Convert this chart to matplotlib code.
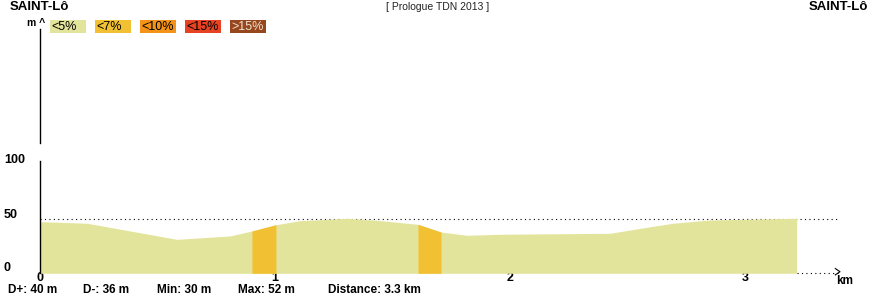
import matplotlib
matplotlib.use("Agg")
import matplotlib.pyplot as plt

plt.rcParams['font.family'] = ['Liberation Sans', 'DejaVu Sans']

# profil (km, m)
dist_km = [0, 0.200, 0.582, 0.808, 0.901, 1.003, 1.105, 1.304, 1.416, 1.607,
           1.705, 1.816, 1.956, 2.423, 2.594, 2.691, 2.849, 3.217]
alt_m = [48.8, 47.3, 32.1, 35.3, 40.0, 45.9, 49.7, 52.0, 50.4, 46.3,
         39.0, 35.9, 36.9, 37.8, 44.0, 47.3, 50.4, 52.0]
# classe de pente par intervalle (0: <5%, 1: <7%, ...)
classe = [0, 0, 0, 0, 1, 0, 0, 0, 0, 1, 0, 0, 0, 0, 0, 0, 0]

legende = ['<5%', '<7%', '<10%', '<15%', '>15%']
couleurs = ['#e3e49b', '#f2c033', '#f39318', '#e74322', '#96471d']
couleurs_txt = ['black', 'black', 'black', 'black', '#f0e0d0']

ville_depart = 'SAINT-Lô'
ville_arrivee = 'SAINT-Lô'
titre = '[ Prologue TDN 2013 ]'
stats = ['D+: 40 m', 'D-: 36 m', 'Min: 30 m', 'Max: 52 m', 'Distance: 3.3 km']
stats_x = [8, 83, 157, 238, 328]
yticks = [0, 50, 100]
xticks = [0, 1, 2, 3]

W, H = 880, 300
fig = plt.figure(figsize=(W / 100, H / 100), dpi=100)

def fx(x):
    return x / W

def fy(y):
    return 1 - y / H

x0, y0 = 40, 273.3
pxkm, pxm = 235.2, 1.058
xmax = (846 - x0) / pxkm
ymax = (y0 - 29) / pxm
ax = fig.add_axes([fx(x0), fy(y0), fx(846 - x0), (y0 - 29) / H])
ax.set_xlim(0, xmax)
ax.set_ylim(0, ymax)
for s in ax.spines.values():
    s.set_visible(False)
ax.set_yticks([])
ax.set_xticks(xticks)
ax.set_xticklabels([str(t) for t in xticks], fontsize=9, fontweight='bold')
ax.tick_params(axis='x', length=0, pad=-1)

# ligne max pointillée (derrière le profil)
fin = (840 - x0) / pxkm
ax.plot([0, fin], [max(alt_m) - 0.6] * 2, color='black', lw=0.8,
        ls=(0, (1, 3)), zorder=1)

# profil
ax.fill_between(dist_km, alt_m, 0, color=couleurs[0], lw=0, zorder=2)
for i, c in enumerate(classe):
    if c > 0:
        ax.fill_between(dist_km[i:i + 2], alt_m[i:i + 2], 0, color=couleurs[c],
                        lw=0, zorder=3)

# axe horizontal pointillé + flèche
ax.plot([dist_km[-1], fin], [0, 0], color='black', lw=0.8, ls=(0, (1, 3)),
        clip_on=False, zorder=4)
ax.plot([fin - 0.02, fin, fin - 0.02], [4.5, 1.5, -1.5], color='black', lw=0.8,
        clip_on=False)

# axe vertical interrompu
ax.plot([0, 0], [0, (y0 - 161) / pxm], color='black', lw=1, clip_on=False, zorder=5)
ax.plot([0, 0], [(y0 - 143) / pxm, ymax], color='black', lw=1, clip_on=False, zorder=5)

# étiquettes y
for v, py in zip(yticks, [268, 215, 160]):
    fig.text(fx(4), fy(py), str(v), fontsize=9, fontweight='bold',
             ha='left', va='center')

fig.text(fx(27), fy(23), 'm ^', fontsize=7.5, fontweight='bold', ha='left', va='center')
fig.text(fx(836), fy(281), 'km', fontsize=8.5, fontweight='bold', ha='left', va='center')

# titres
fig.text(fx(10), fy(7), ville_depart, fontsize=9.5, fontweight='bold', ha='left', va='center')
fig.text(fx(868), fy(7), ville_arrivee, fontsize=9.5, fontweight='bold', ha='right', va='center')
fig.text(fx(438), fy(7), titre, fontsize=7.5, ha='center', va='center', color='#222222')

# légende
for i, (lab, col, ct) in enumerate(zip(legende, couleurs, couleurs_txt)):
    bx = 50 + i * 45
    fig.patches.append(plt.Rectangle((fx(bx), fy(33)), fx(36), 13 / H,
                                     transform=fig.transFigure, color=col, lw=0))
    fig.text(fx(bx + 1), fy(27), lab, fontsize=9, color=ct, ha='left', va='center')

# statistiques
for t, sx in zip(stats, stats_x):
    fig.text(fx(sx), fy(290), t, fontsize=8.5, fontweight='bold', ha='left', va='center')

fig.savefig('out.png', dpi=100)
